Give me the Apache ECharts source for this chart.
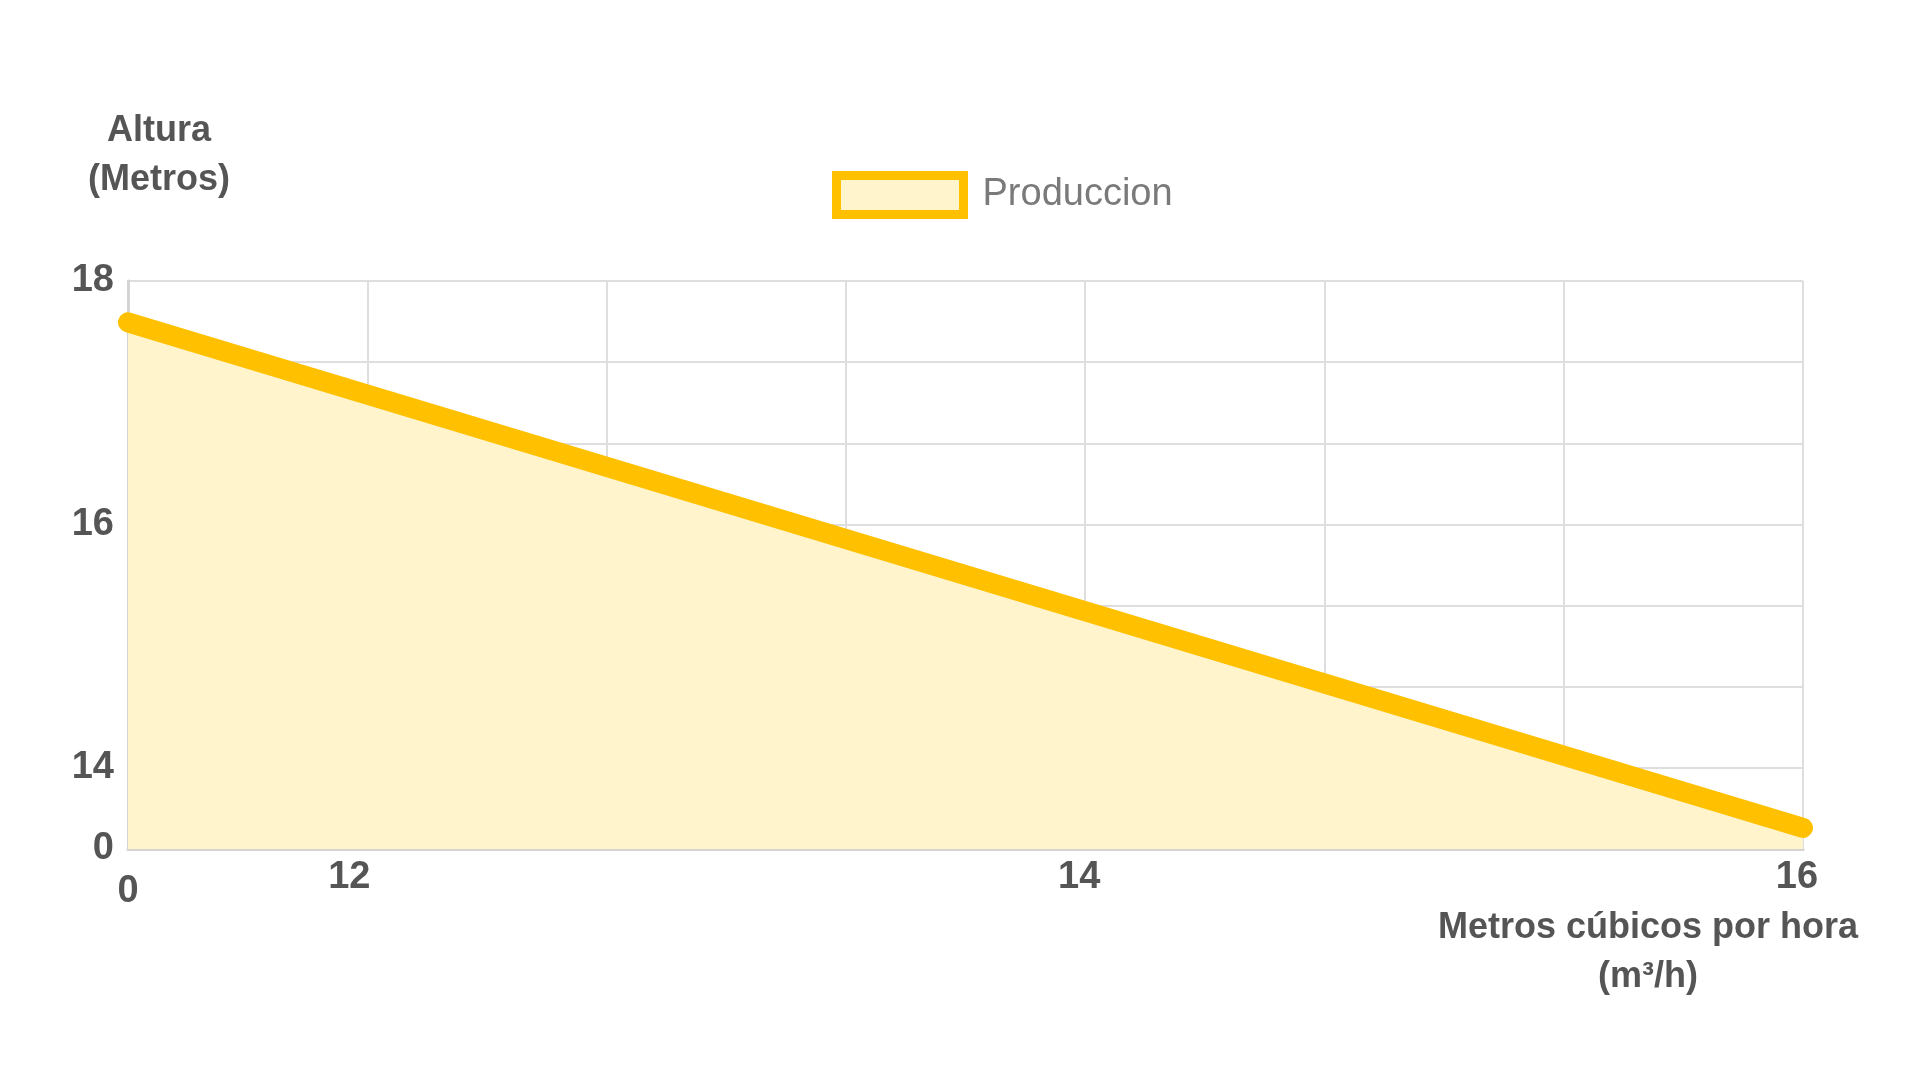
<!DOCTYPE html>
<html>
<head>
<meta charset="utf-8">
<script src="https://cdn.jsdelivr.net/npm/echarts@6/dist/echarts.min.js"></script>
<style>
html,body{margin:0;padding:0;background:#fff;}
#chart{width:1920px;height:1080px;}
</style>
</head>
<body>
<div id="chart"></div>
<script>
// Tick labels as printed on the reference (irregular scale: one label per grid position)
const xTickLabels = ['0', '12', '', '', '14', '', '', '16'];
const yTickLabels = ['0', '14', '', '', '16', '', '', '18'];
// Line endpoints, in grid positions of the drawn axes
const flowPositions = [0, 7];
const headPositions = [6.49, 0.26];
const seriesName = 'Produccion';
const yTitleLines = ['Altura', '(Metros)'];
const xTitleLines = ['Metros cúbicos por hora', '(m³/h)'];

const FONT = '"Liberation Sans", Arial, sans-serif';
const TXT = '#555555';
const titleStyle = { fontFamily: FONT, fontSize: 36, fontWeight: 'bold', fill: TXT,
  textAlign: 'center', textVerticalAlign: 'middle' };

const chart = echarts.init(document.getElementById('chart'));
chart.setOption({
  backgroundColor: '#ffffff',
  animation: false,
  grid: { left: 128, right: 117, top: 281, bottom: 231, containLabel: false },
  legend: {
    data: [{ name: seriesName, icon: 'rect',
      itemStyle: { color: '#FFF4CC', borderColor: '#FFC000', borderWidth: 9 } }],
    left: 827, top: 166,
    itemWidth: 127, itemHeight: 39,
    textStyle: { fontFamily: FONT, fontSize: 38, color: '#7a7a7a', padding: [0, 0, 0, 14] }
  },
  xAxis: {
    type: 'value', min: 0, max: 7, interval: 1,
    axisLine: { show: true, lineStyle: { color: '#d4d4d4', width: 3 } },
    axisTick: { show: false },
    splitLine: { show: true, lineStyle: { color: '#dedede', width: 2 } },
    axisLabel: {
      margin: 10, fontFamily: FONT, fontSize: 38, fontWeight: 'bold', color: TXT,
      formatter: function (v) {
        const i = Math.round(v);
        const t = xTickLabels[i] || '';
        if (!t) return '';
        if (i === 0) return '{low|' + t + '}';
        if (i === 1) return '{left|' + t + '}';
        return '{near|' + t + '}';
      },
      rich: {
        low: { fontFamily: FONT, fontSize: 38, fontWeight: 'bold', color: TXT, padding: [14, 0, 0, 0] },
        left: { fontFamily: FONT, fontSize: 38, fontWeight: 'bold', color: TXT, padding: [0, 36, 0, 0] },
        near: { fontFamily: FONT, fontSize: 38, fontWeight: 'bold', color: TXT, padding: [0, 12, 0, 0] }
      }
    }
  },
  yAxis: {
    type: 'value', min: 0, max: 7, interval: 1,
    axisLine: { show: true, lineStyle: { color: '#d4d4d4', width: 3 } },
    axisTick: { show: false },
    splitLine: { show: true, lineStyle: { color: '#dedede', width: 2 } },
    axisLabel: {
      margin: 14, fontFamily: FONT, fontSize: 38, fontWeight: 'bold', color: TXT,
      formatter: function (v) { return yTickLabels[Math.round(v)] || ''; }
    }
  },
  series: [{
    name: seriesName,
    type: 'line',
    data: flowPositions.map((x, i) => [x, headPositions[i]]),
    symbol: 'none',
    clip: false,
    lineStyle: { color: '#FFC000', width: 20, cap: 'round' },
    itemStyle: { color: '#FFC000' },
    areaStyle: { color: '#FFF4CC', opacity: 1 }
  }],
  graphic: [
    { type: 'text', x: 159, y: 131, style: Object.assign({ text: yTitleLines[0] }, titleStyle) },
    { type: 'text', x: 159, y: 180, style: Object.assign({ text: yTitleLines[1] }, titleStyle) },
    { type: 'text', x: 1648, y: 928, style: Object.assign({ text: xTitleLines[0] }, titleStyle) },
    { type: 'text', x: 1648, y: 977, style: Object.assign({ text: xTitleLines[1] }, titleStyle) }
  ]
});
</script>
</body>
</html>
